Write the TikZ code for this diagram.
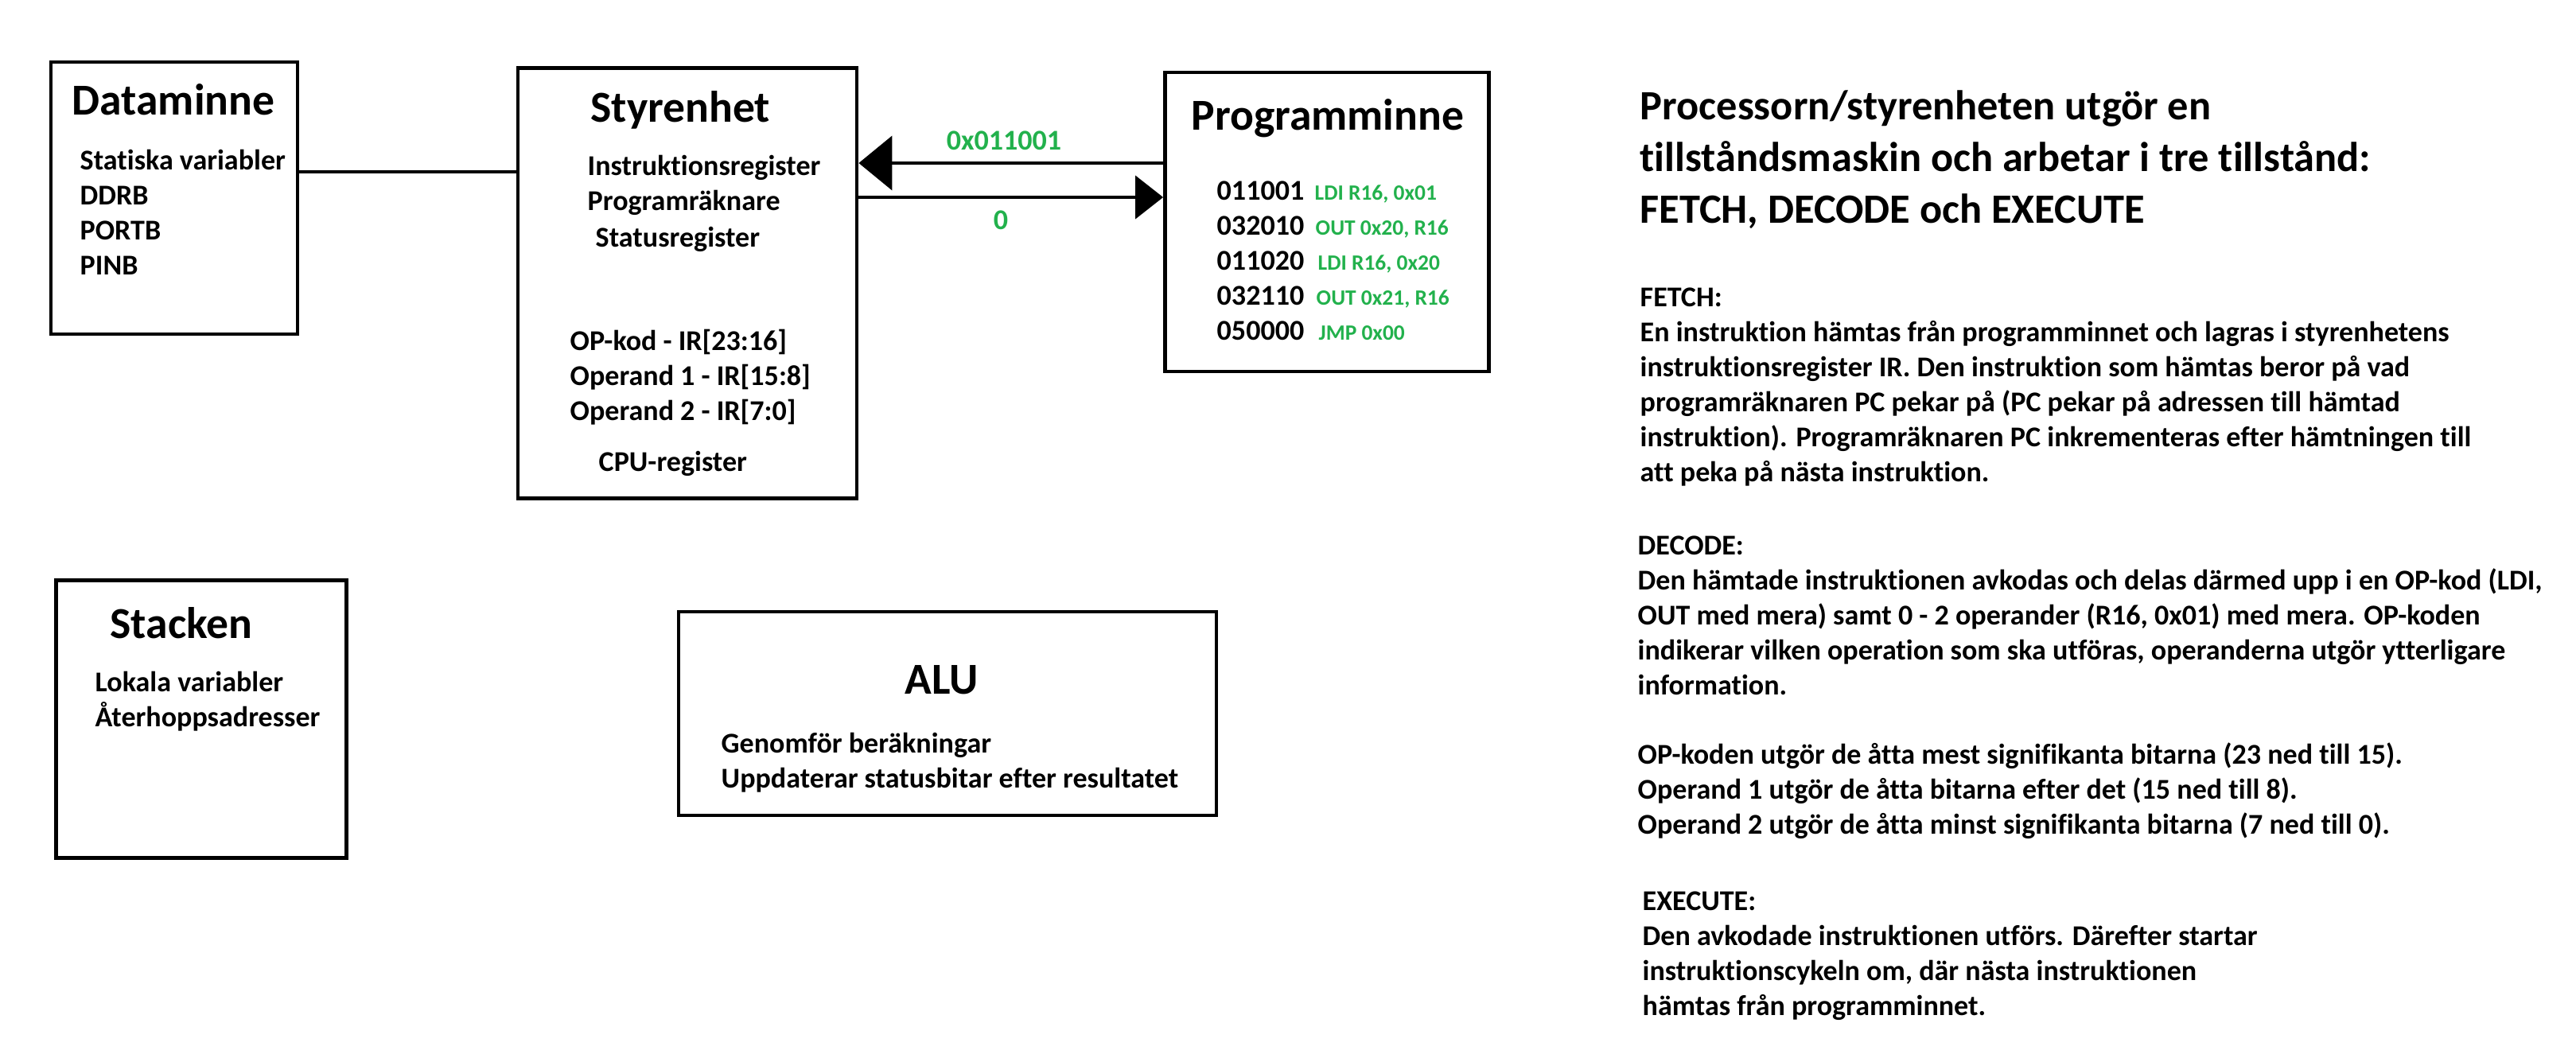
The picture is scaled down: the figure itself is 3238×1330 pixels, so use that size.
\documentclass[tikz,border=0pt]{standalone}
\usepackage{fontspec}
\setmainfont{Carlito}[Ligatures=NoCommon]
\usepackage{tikz}
\usetikzlibrary{arrows.meta, positioning}
\definecolor{codegreen}{HTML}{22B14C}

\begin{document}
\begin{tikzpicture}[
		x=0.01cm, y=-0.01cm,
		unit/.style={
			rectangle,
			draw=black,
			line width=1.3pt,
			inner sep=0pt
		},
		heading/.style={
			anchor=base west,
			inner sep=0pt,
			font=\bfseries\fontsize{15.8pt}{18pt}\selectfont
		},
		item/.style={
			anchor=base west,
			inner sep=0pt,
			align=left,
			font=\bfseries\fontsize{10.25pt}{12.5pt}\selectfont
		},
		code/.style={
			anchor=base west,
			inner sep=0pt,
			text=codegreen,
			font=\bfseries\fontsize{7.8pt}{9pt}\selectfont
		},
		arrow/.style={
			line width=1.2pt,
			-{Triangle[length=0.42cm, width=0.68cm]}
		}
	]
	\useasboundingbox (0,0) rectangle (3238,1330);
	
	% boxes
	\node[unit, minimum width=3.1cm, minimum height=3.42cm] (D) at (219,249) {};
	\node[unit, minimum width=4.26cm, minimum height=5.41cm] (S) at (864,356) {};
	\node[unit, minimum width=4.07cm, minimum height=3.76cm] (P) at (1668,279) {};
	\node[unit, minimum width=3.65cm, minimum height=3.49cm] (St) at (253,904) {};
	\node[unit, minimum width=6.76cm, minimum height=2.56cm] (A) at (1191,897) {};
	
	% Dataminne (multi-line nodes sit on their last line)
	\node[heading] (Dt) at (90,144) {Dataminne};
	\node[item] (Di) at (100,345) {Statiska variabler\\DDRB\\PORTB\\PINB};
	
	% Styrenhet
	\node[heading] (St1) at (742,153) {Styrenhet};
	\node[item] (ir) at (738,220) {Instruktionsregister};
	\node[item] (pc) at (738,264) {Programräknare};
	\node[item] (sr) at (748,310) {Statusregister};
	\node[item] (op) at (716,528) {OP-kod - IR[23:16]\\Operand 1 - IR[15:8]\\Operand 2 - IR[7:0]};
	\node[item] (cpu) at (752,592) {CPU-register};
	
	% Programminne
	\node[heading] (Pt) at (1497,163) {Programminne};
	\node[item] (a1) at (1529,251) {011001};
	\node[item] (a2) at (1529,295) {032010};
	\node[item] (a3) at (1529,339) {011020};
	\node[item] (a4) at (1529,383) {032110};
	\node[item] (a5) at (1529,427) {050000};
	\node[code] (c1) at (1652,251) {LDI R16, 0x01};
	\node[code] (c2) at (1653,295) {OUT 0x20, R16};
	\node[code] (c3) at (1656,339) {LDI R16, 0x20};
	\node[code] (c4) at (1654,383) {OUT 0x21, R16};
	\node[code] (c5) at (1657,427) {JMP 0x00};
	
	% Stacken
	\node[heading] (Stt) at (138,802) {Stacken};
	\node[item] (Sti) at (119,913) {Lokala variabler\\Återhoppsadresser};
	
	% ALU
	\node[heading, anchor=base] (At) at (1184,872) {ALU};
	\node[item] (Ai) at (906,990) {Genomför beräkningar\\Uppdaterar statusbitar efter resultatet};
	
	% connections
	\draw[line width=1.2pt] (D.east |- 0,216) -- (S.west |- 0,216);
	\draw[arrow] (P.west |- 0,205) -- (S.east |- 0,205);
	\draw[arrow, -{Triangle[length=0.35cm, width=0.54cm]}] (S.east |- 0,248) -- (P.west |- 0,248);
	\node[item, anchor=base, text=codegreen] (fw) at (1262,188) {0x011001};
	\node[item, anchor=base, text=codegreen] (bw) at (1258,288) {0};
	
	% explanation
	\node[item, font=\bfseries\fontsize{14.9pt}{18.35pt}\selectfont] (title) at (2061,280)
		{Processorn/styrenheten utgör en\\tillståndsmaskin och arbetar i tre tillstånd:\\FETCH, DECODE och EXECUTE};
	\node[item] (fetch) at (2061,605)
		{FETCH:\\En instruktion hämtas från programminnet och lagras i styrenhetens\\instruktionsregister IR. Den instruktion som hämtas beror på vad\\programräknaren PC pekar på (PC pekar på adressen till hämtad\\instruktion). Programräknaren PC inkrementeras efter hämtningen till\\att peka på nästa instruktion.};
	\node[item] (decode) at (2058,873)
		{DECODE:\\Den hämtade instruktionen avkodas och delas därmed upp i en OP-kod (LDI,\\OUT med mera) samt 0 - 2 operander (R16, 0x01) med mera. OP-koden\\indikerar vilken operation som ska utföras, operanderna utgör ytterligare\\information.};
	\node[item] (bits) at (2058,1048)
		{OP-koden utgör de åtta mest signifikanta bitarna (23 ned till 15).\\Operand 1 utgör de åtta bitarna efter det (15 ned till 8).\\Operand 2 utgör de åtta minst signifikanta bitarna (7 ned till 0).};
	\node[item] (execute) at (2064,1276)
		{EXECUTE:\\Den avkodade instruktionen utförs. Därefter startar\\instruktionscykeln om, där nästa instruktionen\\hämtas från programminnet.};
	
\end{tikzpicture}
\end{document}
